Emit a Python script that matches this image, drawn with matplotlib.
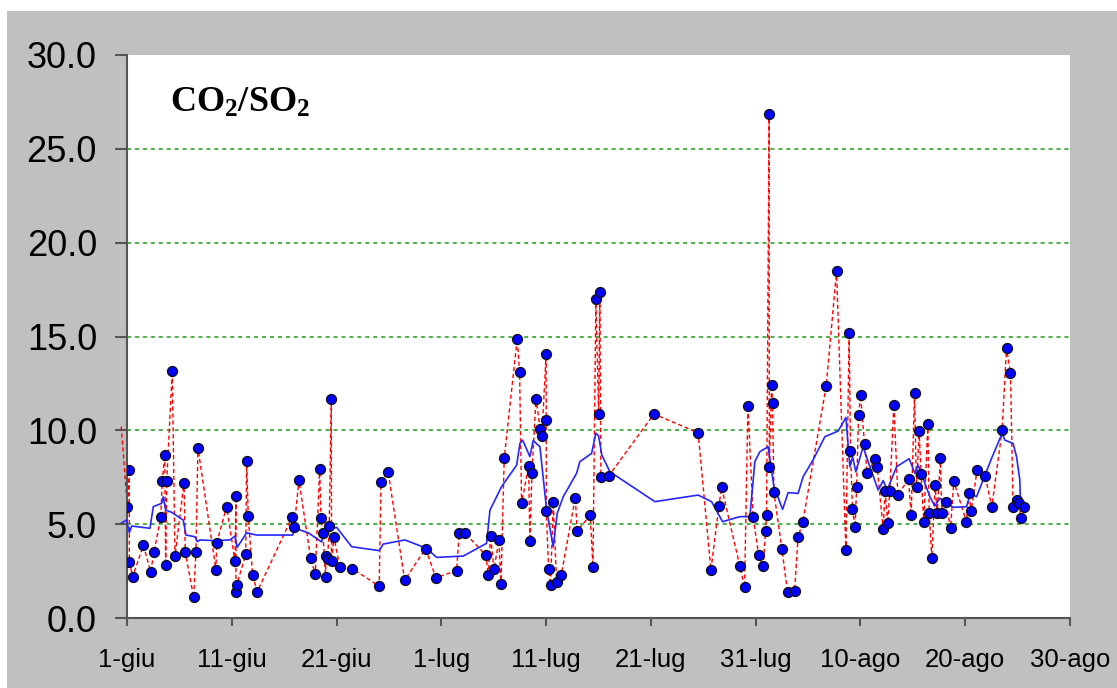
import matplotlib
matplotlib.use("Agg")
import matplotlib.pyplot as plt
from matplotlib.patches import Rectangle

plt.rcParams['font.family'] = ['Liberation Sans', 'DejaVu Sans']
plt.rcParams['mathtext.fontset'] = 'custom'
plt.rcParams['mathtext.bf'] = 'Liberation Serif:bold'
plt.rcParams['mathtext.rm'] = 'Liberation Serif'

# ---- data: days after 1-giu, CO2/SO2 ratio ----
ratio_days = [-0.55, 0.03, 0.22, 0.22, 0.54, 1.56, 2.26, 2.58, 3.22, 3.37, 3.6, 3.69, 3.79,
              4.32, 4.58, 5.44, 5.56, 6.36, 6.58, 6.77, 8.49, 8.56, 9.51, 10.31, 10.4, 10.4,
              10.47, 11.33, 11.42, 11.57, 11.99, 12.43, 15.74, 15.96, 16.41, 17.53, 17.97,
              18.39, 18.51, 18.7, 18.95, 18.99, 19.15, 19.3, 19.5, 19.52, 19.75, 20.32, 21.5,
              24.07, 24.24, 24.93, 26.5, 28.5, 29.48, 31.46, 31.7, 32.28, 34.26, 34.48, 34.7,
              35.02, 35.5, 35.69, 36.0, 37.24, 37.47, 37.66, 38.33, 38.45, 38.65, 39.03,
              39.44, 39.6, 40.0, 40.01, 40.02, 40.24, 40.43, 40.68, 41.0, 41.44, 42.78, 42.97,
              44.21, 44.47, 44.75, 45.01, 45.13, 45.23, 45.99, 50.29, 54.51, 55.73, 56.49,
              56.75, 58.49, 58.94, 59.26, 59.76, 60.28, 60.72, 60.94, 61.04, 61.28, 61.3,
              61.52, 61.61, 61.74, 62.5, 63.04, 63.71, 64.05, 64.5, 66.73, 67.72, 68.61,
              68.92, 69.05, 69.24, 69.49, 69.63, 69.82, 70.01, 70.39, 70.64, 71.4, 71.59,
              72.17, 72.36, 72.61, 72.8, 73.19, 73.57, 74.59, 74.84, 75.16, 75.35, 75.6,
              75.79, 76.05, 76.43, 76.56, 76.81, 77.13, 77.32, 77.64, 77.77, 78.15, 78.6,
              78.91, 80.12, 80.37, 80.56, 81.13, 81.9, 82.54, 83.52, 83.94, 84.32, 84.57,
              84.9, 85.14, 85.28, 85.59]
ratio_values = [10.2, 5.93, 7.88, 3.0, 2.2, 3.87, 2.47, 3.52, 5.36, 7.3, 8.7, 2.8, 7.3,
                13.16, 3.3, 7.21, 3.52, 1.1, 3.52, 9.07, 2.57, 4.0, 5.93, 3.02, 6.48, 1.4,
                1.76, 3.39, 8.38, 5.43, 2.27, 1.4, 5.36, 4.86, 7.35, 3.18, 2.33,
                7.95, 5.31, 4.51, 2.2, 3.3, 3.13, 4.9, 11.68, 3.05, 4.3, 2.7, 2.63,
                1.7, 7.26, 7.76, 2.02, 3.69, 2.15, 2.52, 4.51, 4.51, 3.34, 2.27, 4.37,
                2.59, 4.14, 1.79, 8.5, 14.88, 13.09, 6.11, 8.12, 4.12, 7.71, 11.68,
                10.09, 9.68, 14.08, 10.55, 5.68, 2.59, 1.78, 6.16, 1.9, 2.27, 6.41, 4.64,
                5.47, 2.72, 16.98, 10.87, 17.35, 7.53, 7.58, 10.87, 9.87, 2.56, 5.97,
                6.96, 2.77, 1.63, 11.3, 5.36, 3.37, 2.77, 4.62, 5.47, 26.83, 8.03,
                12.41, 11.47, 6.71, 3.69, 1.39, 1.46, 4.33, 5.11, 12.36, 18.47, 3.62,
                15.2, 8.9, 5.82, 4.83, 6.96, 10.8, 11.86, 9.27, 7.71, 8.46, 8.06,
                4.74, 6.78, 5.04, 6.78, 11.36, 6.54, 7.42, 5.47, 11.97, 6.96, 9.95,
                7.67, 5.11, 10.32, 5.61, 3.2, 7.1, 5.58, 8.52, 5.61, 6.18, 4.79,
                7.28, 5.11, 6.68, 5.68, 7.88, 7.58, 5.93, 10.0, 14.38, 13.07, 5.93,
                6.29, 6.14, 5.33, 5.93]

# moving-average trace
avg_days = [-0.51, -0.03, 0.22, 0.45, 2.19, 2.51, 3.31, 3.46, 3.69, 4.27, 5.37, 5.63, 6.49,
            6.71, 6.97, 8.4, 9.83, 10.31, 10.52, 11.42, 11.9, 12.38, 15.81, 16.03, 17.3,
            18.58, 18.73, 19.25, 19.69, 20.01, 21.44, 24.07, 24.46, 26.53, 28.6, 29.55,
            32.09, 34.32, 34.64, 35.75, 37.19, 37.5, 37.76, 38.45, 38.77, 39.41, 40.05,
            40.68, 41.06, 41.63, 42.91, 43.22, 44.34, 44.75, 45.01, 45.32, 46.09, 50.38,
            54.51, 55.79, 56.84, 58.49, 59.45, 59.92, 60.4, 61.19, 61.74, 62.57, 63.1,
            64.05, 64.53, 65.48, 66.6, 67.87, 68.61, 68.99, 69.25, 69.56, 70.26, 70.9,
            71.69, 72.17, 72.55, 73.45, 74.65, 75.19, 75.51, 76.15, 76.63, 77.1, 77.58,
            78.85, 80.12, 80.5, 81.08, 82.51, 83.52, 83.78, 84.57, 84.9, 85.21, 85.28]
avg_values = [5.08, 5.22, 4.54, 4.9, 4.78, 5.93, 6.11, 6.46, 5.75, 5.63, 5.22, 4.42, 4.33,
              4.07, 4.16, 4.12, 4.16, 4.37, 3.77, 4.54, 4.48, 4.42, 4.42, 4.78, 4.54,
              4.05, 4.51, 4.86, 4.78, 4.83, 3.8, 3.59, 3.94, 4.16, 3.71, 3.23,
              3.3, 3.98, 5.75, 7.0, 8.15, 9.3, 9.48, 8.6, 9.45, 9.13, 5.75,
              3.8, 5.58, 6.46, 7.71, 8.33, 8.77, 9.85, 9.7, 8.68, 7.79, 6.2,
              6.55, 6.2, 5.13, 5.4, 5.4, 8.33, 8.86, 9.13, 7.0, 5.79, 6.68,
              6.64, 7.53, 8.42, 9.66, 9.96, 10.69, 8.06, 8.59, 7.79, 9.13, 8.06,
              6.82, 7.32, 6.82, 8.06, 8.49, 7.71, 8.15, 7.18, 6.46, 5.97, 6.38,
              5.9, 5.93, 6.64, 6.46, 8.5, 9.84, 9.48, 9.3, 8.59, 7.35, 6.02]

x_tick_pos = [0, 10, 20, 30, 40, 50, 60, 70, 80, 90]
x_tick_labels = ['1-giu', '11-giu', '21-giu', '1-lug', '11-lug', '21-lug',
                 '31-lug', '10-ago', '20-ago', '30-ago']
y_ticks = [0, 5, 10, 15, 20, 25, 30]
grid_levels = [5, 10, 15, 20, 25]
title_text = r'$\mathbf{CO_2/SO_2}$'

W, H = 1117, 688
fig = plt.figure(figsize=(W / 100, H / 100), dpi=100, facecolor='white')
bg = Rectangle((7 / W, 0), 1 - 7 / W, (H - 11) / H,
               transform=fig.transFigure, facecolor='#C0C0C0',
               edgecolor='none', zorder=-10)
fig.add_artist(bg)

ax = fig.add_axes([127 / W, 70 / H, 943 / W, 563 / H])
ax.set_zorder(1)
ax.set_facecolor('white')
ax.set_xlim(0, 90)
ax.set_ylim(0, 30)

for g in grid_levels:
    ax.axhline(g, color='#3cab3c', lw=1.3, ls=(0, (2.2, 2.2)), zorder=1)

ax.plot(ratio_days, ratio_values, color='#ff0000', lw=1.0, ls=(0, (3, 2)),
        zorder=2, clip_on=False)
ax.plot(avg_days, avg_values, color='#2626ff', lw=1.2, zorder=3, clip_on=False)
ax.plot(ratio_days[1:], ratio_values[1:], ls='none', marker='o', ms=7.2,
        mfc='#0000ff', mec='#111111', mew=0.9, zorder=4)

for s in ['top', 'right']:
    ax.spines[s].set_visible(False)
for s in ['left', 'bottom']:
    ax.spines[s].set_color('#555555')
    ax.spines[s].set_linewidth(1.5)

ax.set_yticks(y_ticks)
ax.set_yticklabels([f'{v:.1f}' for v in y_ticks])
ax.set_xticks(x_tick_pos)
ax.set_xticklabels(x_tick_labels)
ax.tick_params(axis='y', direction='out', length=8.6, width=1.5, color='#555555',
               labelsize=26, pad=13)
ax.tick_params(axis='x', direction='out', length=5.8, width=1.5, color='#555555',
               labelsize=18.5, pad=16)

ax.text(0.0456, 0.899, title_text, transform=ax.transAxes, fontsize=26,
        ha='left', va='baseline', color='black')

fig.savefig('out.png', dpi=100, facecolor=fig.get_facecolor())
